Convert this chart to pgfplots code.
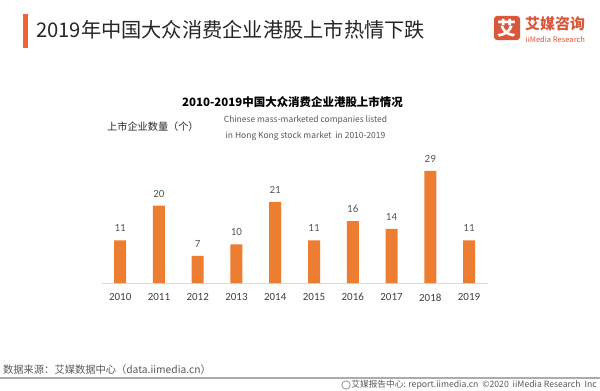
\documentclass[border=0pt]{standalone}
\usepackage{pgfplots}
\pgfplotsset{compat=1.18}
\usepackage{fontspec}
\setmainfont{Noto Sans CJK SC}
\newfontfamily\carlito{Carlito}
\definecolor{barorange}{HTML}{ED7D31}
\definecolor{titlebar}{HTML}{F26532}
\definecolor{logored}{HTML}{D9573A}
\definecolor{txtdark}{HTML}{262626}
\definecolor{txtgrey}{HTML}{595959}
\definecolor{tickgrey}{HTML}{404040}
\begin{document}
\begin{tikzpicture}[x=1bp,y=1bp]
\fill[white] (0,0) rectangle (600,390);
\useasboundingbox (0,0) rectangle (600,390);
% title
\fill[titlebar] (23,342) rectangle (28,376);
\node[anchor=west, inner sep=0, text=txtdark, font=\fontsize{20.3}{24}\selectfont] at (36,360) {2019年中国大众消费企业港股上市热情下跌};
% logo
\fill[logored, rounded corners=3bp] (494,350) rectangle (520,374);
\node[text=white, font=\bfseries\fontsize{19}{20}\selectfont, inner sep=0] at (507,362) {艾};
\node[anchor=base west, inner sep=0, text=logored, font=\bfseries\fontsize{15}{16}\selectfont] at (525,360.5) {艾媒咨询};
\node[anchor=base west, inner sep=0, text=logored, font=\fontsize{7.6}{8}\selectfont] at (525.5,347.5) {iiMedia Research};
% subtitle
\node[inner sep=0, text=black, font=\bfseries\fontsize{11.5}{13}\selectfont] at (292.5,288) {2010-2019中国大众消费企业港股上市情况};
\node[anchor=west, inner sep=0, text=txtdark, font=\fontsize{10.2}{11}\selectfont] at (107,263) {上市企业数量（个）};
\node[inner sep=0, text=txtgrey, font=\fontsize{8.5}{10}\selectfont] at (305.5,270) {Chinese mass-marketed companies listed};
\node[inner sep=0, text=txtgrey, font=\fontsize{8.5}{10}\selectfont] at (305.5,254) {in Hong Kong stock market\ \ in 2010-2019};
% footer
\node[anchor=west, inner sep=0, text=txtgrey, font=\fontsize{10.3}{12}\selectfont] at (3,20) {数据来源：艾媒数据中心（data.iimedia.cn）};
\draw[gray!65, line width=1.5bp] (0,12) -- (600,12);
\draw[gray!80, line width=0.8bp] (346,5) circle (4.2);
\node[anchor=east, inner sep=0, text=txtgrey, font=\fontsize{8.7}{9}\selectfont] at (597,5) {艾媒报告中心: report.iimedia.cn\ \ ©2020\ \ iiMedia Research\ \ Inc};
% chart
\begin{axis}[
  at={(102bp,107bp)}, anchor=south west,
  scale only axis, width=386bp, height=112.2bp,
  xmin=-0.47, xmax=9.49, ymin=0, ymax=29,
  axis x line=bottom, axis y line=none,
  x axis line style={-, draw=gray!30, line width=0.8bp},
  xtick=data,
  xticklabels={2010,2011,2012,2013,2014,2015,2016,2017,2018,2019},
  major tick length=0,
  /pgf/number format/assume math mode=true,
  xticklabel style={font=\carlito\fontsize{11}{13}\selectfont, text=tickgrey, yshift=-7bp},
  clip=false,
  ybar, bar width=12bp,
  nodes near coords,
  every node near coord/.append style={font=\carlito\fontsize{11}{13}\selectfont, text=txtgrey, yshift=5bp},
]
\addplot[fill=barorange, draw=none] coordinates {
(0,11) (1,20) (2,7) (3,10) (4,21) (5,11) (6,16) (7,14) (8,29) (9,11)};
\end{axis}
\end{tikzpicture}
\end{document}
